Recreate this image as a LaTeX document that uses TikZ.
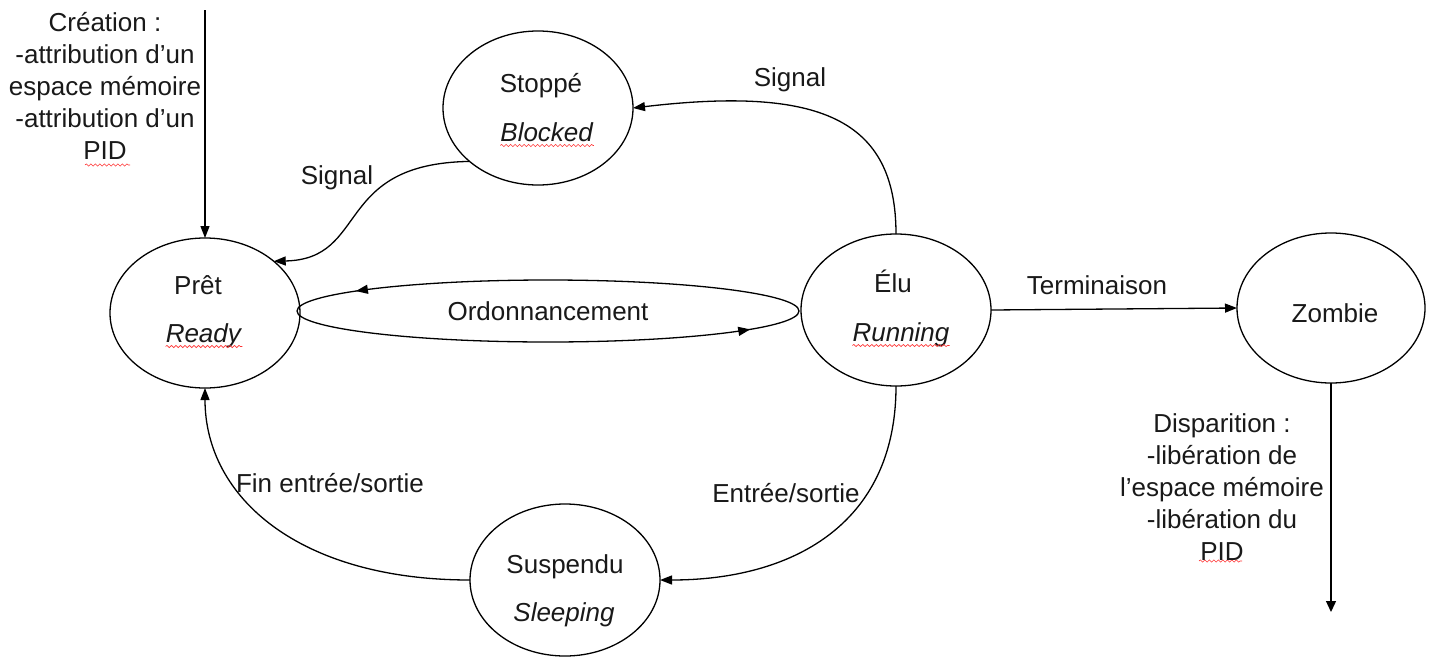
\documentclass[tikz,border=0pt]{standalone}
\usepackage{fontspec}
\setmainfont{Liberation Sans}
\usetikzlibrary{shapes.geometric,arrows.meta,decorations.markings,decorations.pathmorphing}
\begin{document}
\begin{tikzpicture}[x=1pt,y=-1pt,
  every node/.style={font=\fontsize{26}{32}\selectfont, text=black!90},
  st/.style={ellipse, draw, line width=1.3pt, minimum width=190pt, minimum height=152pt, inner sep=0pt, outer sep=0pt},
  lbl/.style={inner sep=0pt, text height=18.6pt, text depth=0pt},
  tip/.style={-{Triangle[length=12pt,width=9pt]}},
  conn/.style={line width=1.3pt, tip},
  squig/.style={draw=red!80, line width=0.6pt, decorate, decoration={snake, amplitude=1.1pt, segment length=4.5pt}},
  omark/.style={line width=1.3pt, postaction={decorate}, decoration={markings, mark=at position #1 with {\arrow{Triangle[length=12pt,width=9pt]}}}}
]
\useasboundingbox (0,0) rectangle (1432,656);

% states
\node[st, minimum height=150pt] (pret) at (205,313) {};
\node[st, minimum height=154pt] (stoppe) at (538,108) {};
\node[st] (elu) at (896,310) {};
\node[st, minimum width=188pt, minimum height=150pt] (zombie) at (1331,308) {};
\node[st] (susp) at (565,580) {};

% state texts
\node[lbl] (pretA) at (198,285) {Prêt};
\node[lbl] (pretB) at (204,333) {\textit{Ready}};
\node[lbl] (stopA) at (541,83) {Stoppé};
\node[lbl] (stopB) at (547,132) {\textit{Blocked}};
\node[lbl] (eluA) at (893,283) {Élu};
\node[lbl] (eluB) at (901,332) {\textit{Running}};
\node[lbl] (zombA) at (1335,313) {Zombie};
\node[lbl] (suspA) at (565,564) {Suspendu};
\node[lbl] (suspB) at (564,612) {\textit{Sleeping}};

% spell-check underlines
\draw[squig] ([yshift=-4pt]pretB.south west) -- ([yshift=-4pt]pretB.south east);
\draw[squig] ([yshift=-4pt]stopB.south west) -- ([yshift=-4pt]stopB.south east);
\draw[squig] ([yshift=-4pt]eluB.south west) -- ([yshift=-4pt]eluB.south east);
\draw[squig] (85,165) -- (130,165);
\draw[squig] (1199,561) -- (1242,561);

% Ordonnancement loop
\node[ellipse, minimum width=502pt, minimum height=62pt, inner sep=0pt, outer sep=0pt] (ordo) at (548,311) {Ordonnancement};
\draw[omark=0.875] (ordo.east) arc[start angle=0, end angle=-180, x radius=251, y radius=31];
\draw[omark=0.895] (ordo.west) arc[start angle=180, end angle=0, x radius=251, y radius=31];

% creation
\coordinate (cstart) at (205,10);
\draw[conn] (cstart) -- (pret.north);
\node[align=center, inner sep=0pt] (creat) at (105,86) {Création :\\-attribution d’un\\espace mémoire\\-attribution d’un\\PID};

% Signal edges
\draw[conn] (stoppe.218) .. controls +(-137,2) and +(96,-2) .. (pret.37);
\node[lbl] (sig1) at (337,175) {Signal};
\draw[conn] (elu.north) .. controls +(0,-115) and +(187,-22) .. (stoppe.east);
\node[lbl] (sig2) at (790,77) {Signal};

% Terminaison
\draw[conn] (elu.east) -- (zombie.west);
\node[lbl] (term) at (1097,285) {Terminaison};

% Disparition
\coordinate (zend) at (1331,612);
\draw[line width=1.3pt, -{Triangle[length=11pt,width=10pt]}] (zombie.south) -- (zend);
\node[align=center, inner sep=0pt] (disp) at (1222,487) {Disparition :\\-libération de\\l’espace mémoire\\-libération du\\PID};

% I/O
\draw[conn] (elu.south) .. controls +(0,140) and +(130,0) .. (susp.east);
\node[lbl] (es) at (786,493) {Entrée/sortie};
\draw[conn] (susp.west) .. controls +(-170,0) and +(0,110) .. (pret.south);
\node[lbl] (fin) at (330,483) {Fin entrée/sortie};
\end{tikzpicture}
\end{document}
